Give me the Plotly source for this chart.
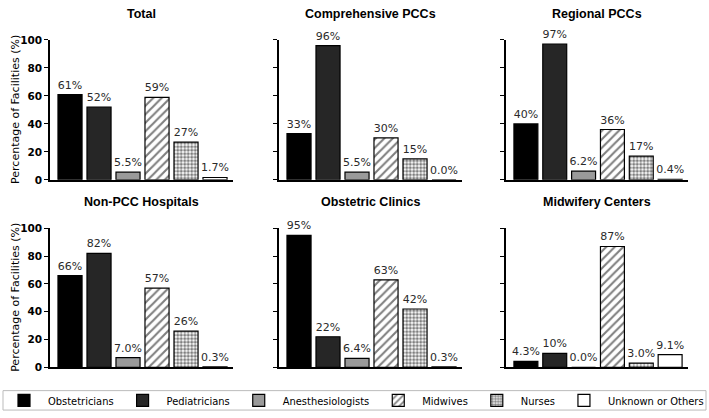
import plotly.graph_objects as go

W, H = 709, 418

roles = ["Obstetricians", "Pediatricians", "Anesthesiologists", "Midwives", "Nurses", "Unknown or Others"]
panels = ["Total", "Comprehensive PCCs", "Regional PCCs",
          "Non-PCC Hospitals", "Obstetric Clinics", "Midwifery Centers"]

total = [61, 52, 5.5, 59, 27, 1.7]
comprehensive = [33, 96, 5.5, 30, 15, 0.0]
regional = [40, 97, 6.2, 36, 17, 0.4]
non_pcc = [66, 82, 7.0, 57, 26, 0.3]
obstetric = [95, 22, 6.4, 63, 42, 0.3]
midwifery = [4.3, 10, 0.0, 87, 3.0, 9.1]
panel_values = [total, comprehensive, regional, non_pcc, obstetric, midwifery]

y_ticks = [0, 20, 40, 60, 80, 100]

fills = ["#000000", "#262626", "#9a9a9a", "#ffffff", "#ffffff", "#ffffff"]
patterns = [None, None, None,
            dict(shape="/", fgcolor="#000000", bgcolor="#ffffff", size=6, solidity=0.35),
            dict(shape=".", fgcolor="#000000", bgcolor="#ffffff", size=3.5, solidity=0.6),
            None]


def label(v):
    return f"{v:.0f}%" if v >= 10 else f"{v:.1f}%"


# layout geometry (pixels)
cols_px = [(50, 233), (279, 462), (506, 688)]
rows_px = [(35, 179), (229, 372)]

fig = go.Figure()

for p, (name, vals) in enumerate(zip(panels, panel_values)):
    r, c = divmod(p, 3)
    idx = p + 1
    xa = "x" if idx == 1 else f"x{idx}"
    ya = "y" if idx == 1 else f"y{idx}"
    for k, role in enumerate(roles):
        fig.add_trace(go.Bar(
            x=[k], y=[vals[k]], name=role, legendgroup=role,
            showlegend=(p == 0),
            marker=dict(color=fills[k], line=dict(color="#000000", width=1.2),
                        pattern=patterns[k] if patterns[k] else dict(shape="")),
            width=0.83,
            text=[label(vals[k])], textposition="outside",
            texttemplate="%{text}",
            constraintext="none", cliponaxis=False,
            outsidetextfont=dict(family="DejaVu Sans", size=11, color="#2a2a2a"),
            xaxis=xa, yaxis=ya, hoverinfo="skip",
        ))
    x0, x1 = cols_px[c]
    yt, yb = rows_px[r]
    xkey = "xaxis" if idx == 1 else f"xaxis{idx}"
    ykey = "yaxis" if idx == 1 else f"yaxis{idx}"
    fig.layout[xkey] = dict(
        domain=[x0 / W, x1 / W], range=[-0.69, 5.62], anchor=ya,
        showticklabels=False, ticks="", showgrid=False, zeroline=False,
        showline=True, linecolor="#000000", linewidth=1.5, fixedrange=True,
    )
    fig.layout[ykey] = dict(
        domain=[1 - yb / H, 1 - yt / H], range=[0, 100], anchor=xa,
        tickvals=y_ticks, showticklabels=(c == 0),
        tickfont=dict(family="DejaVu Sans", size=10.5, color="#000000", weight="bold"),
        ticks="outside", ticklen=4, tickwidth=1.2, tickcolor="#000000",
        showgrid=False, zeroline=False,
        showline=True, linecolor="#000000", linewidth=1.5, fixedrange=True,
    )
    # panel title
    fig.add_annotation(
        x=(x0 + x1) / 2 / W, y=1 - (yt - 27) / H, xref="paper", yref="paper",
        text=f"<b>{name}</b>", showarrow=False, xanchor="center", yanchor="middle",
        font=dict(family="Liberation Sans, Arial", size=12.5, color="#000000"),
    )
    if c == 0:
        fig.add_annotation(
            x=16 / W, y=1 - (yt + yb) / 2 / H, xref="paper", yref="paper",
            text="Percentage of Facilities (%)", showarrow=False, textangle=-90,
            xanchor="center", yanchor="middle",
            font=dict(family="DejaVu Sans", size=11, color="#000000"),
        )

# legend frame
fig.add_shape(type="rect", xref="paper", yref="paper",
              x0=3 / W, x1=706 / W, y0=1 - 416 / H, y1=1 - 396 / H,
              line=dict(color="#bbbbbb", width=1), fillcolor="rgba(0,0,0,0)")

fig.update_layout(
    width=W, height=H, autosize=False,
    margin=dict(l=0, r=0, t=0, b=0),
    paper_bgcolor="#ffffff", plot_bgcolor="#ffffff",
    barmode="overlay",
    showlegend=True,
    legend=dict(orientation="h", x=0.5, xanchor="center", y=1 - 406 / H, yanchor="middle",
                font=dict(family="DejaVu Sans Condensed, DejaVu Sans", size=11, color="#000000"),
                bgcolor="rgba(0,0,0,0)", borderwidth=0, itemclick=False, itemdoubleclick=False,
                itemwidth=38, tracegroupgap=0),
)

fig.write_html("out.html")
